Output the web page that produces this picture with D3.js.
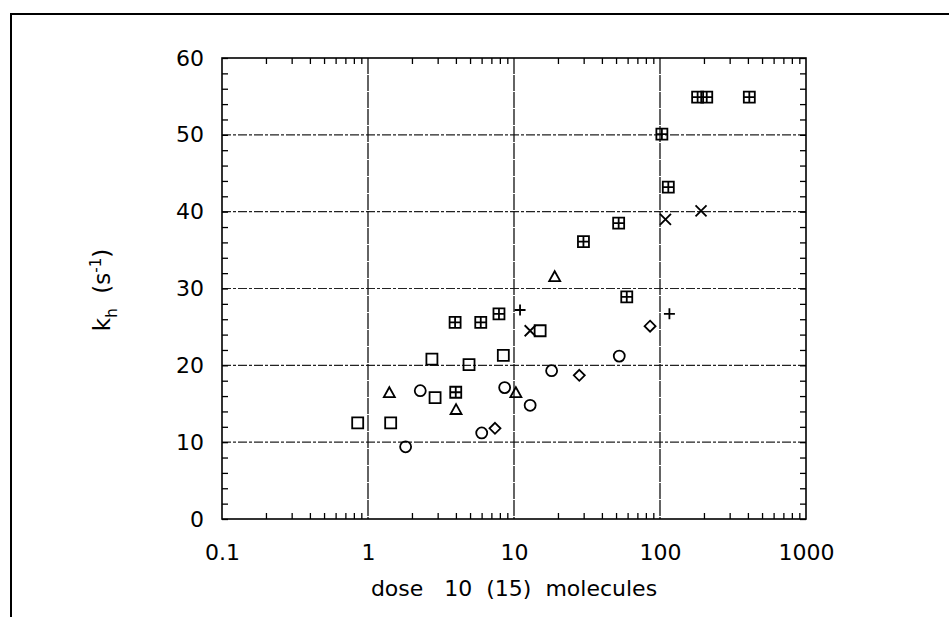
<!DOCTYPE html>
<html>
<head>
<meta charset="utf-8">
<script src="https://cdn.jsdelivr.net/npm/d3@7"></script>
<style>
  body { margin: 0; background: #fff; }
  svg { display: block; font-family: "DejaVu Sans", sans-serif; }
</style>
</head>
<body>
<svg></svg>
<script>
// tick labels
const xTickValues = [0.1, 1, 10, 100, 1000];
const yTickValues = [0, 10, 20, 30, 40, 50, 60];

// data: [dose, k_h]
const squares = [[0.85, 12.5], [1.43, 12.5], [2.74, 20.8], [2.88, 15.8], [4.92, 20.1], [8.45, 21.3], [15.1, 24.5]];
const triangles = [[1.40, 16.4], [4.01, 14.2], [10.3, 16.4], [19.0, 31.5]];
const circles = [[1.81, 9.4], [2.28, 16.7], [6.01, 11.2], [8.63, 17.1], [12.9, 14.8], [18.1, 19.3], [52.6, 21.2]];
const diamonds = [[7.41, 11.8], [28.0, 18.7], [85.5, 25.1]];
const crossedSquares = [[3.95, 25.6], [5.92, 25.6], [7.89, 26.7], [3.99, 16.5], [29.9, 36.1], [52.1, 38.5],
  [59.2, 28.9], [103, 50.1], [114, 43.2], [181, 54.9], [209, 54.9], [409, 54.9]];
const pluses = [[11.0, 27.2], [116, 26.7]];
const crosses = [[12.9, 24.5], [109, 39.0], [191, 40.1]];

const width = 949;
const height = 617;
const plotLeft = 222;
const plotRight = 806;
const plotTop = 58;
const plotBottom = 519;

const svg = d3.select("svg")
  .attr("width", width)
  .attr("height", height);

// outer frame (top and left edges only)
svg.append("path")
  .attr("d", `M11,${height} L11,14 L${width},14`)
  .attr("fill", "none")
  .attr("stroke", "black")
  .attr("stroke-width", 2);

// scales
const x = d3.scaleLog()
  .domain([0.1, 1000])
  .range([plotLeft, plotRight]);

const y = d3.scaleLinear()
  .domain([0, 60])
  .range([plotBottom, plotTop]);

// grid lines
svg.append("g")
  .selectAll("line")
  .data(yTickValues.filter(d => d > 0 && d < 60)).enter().append("line")
  .attr("x1", plotLeft)
  .attr("x2", plotRight)
  .attr("y1", d => y(d))
  .attr("y2", d => y(d))
  .attr("stroke", "#222")
  .attr("stroke-width", 1.1)
  .attr("stroke-dasharray", "9,2,3,2");

svg.append("g")
  .selectAll("line")
  .data(xTickValues.filter(d => d > 0.1 && d < 1000)).enter().append("line")
  .attr("x1", d => x(d))
  .attr("x2", d => x(d))
  .attr("y1", plotTop)
  .attr("y2", plotBottom)
  .attr("stroke", "#111")
  .attr("stroke-width", 1.3)
  .attr("stroke-dasharray", "16,1");

// minor ticks
const minorX = x.ticks().filter(d => !xTickValues.includes(d));
const yTicks = d3.range(0, 61, 2);

const styleTicks = g => {
  g.select(".domain").remove();
  g.selectAll("line").attr("stroke", "black").attr("stroke-width", 1.3);
};

svg.append("g")
  .attr("transform", `translate(0, ${plotBottom})`)
  .call(d3.axisBottom(x).tickValues(minorX).tickSize(-6).tickFormat(""))
  .call(styleTicks);

svg.append("g")
  .attr("transform", `translate(0, ${plotTop})`)
  .call(d3.axisTop(x).tickValues(minorX).tickSize(-6).tickFormat(""))
  .call(styleTicks);

svg.append("g")
  .attr("transform", `translate(${plotLeft}, 0)`)
  .call(d3.axisLeft(y).tickValues(yTicks).tickSize(-6).tickFormat(""))
  .call(styleTicks);

svg.append("g")
  .attr("transform", `translate(${plotRight}, 0)`)
  .call(d3.axisRight(y).tickValues(yTicks).tickSize(-6).tickFormat(""))
  .call(styleTicks);

// tick labels
svg.append("g")
  .attr("transform", `translate(0, ${plotBottom})`)
  .call(d3.axisBottom(x).tickValues(xTickValues).tickSize(0).tickPadding(25).tickFormat(d3.format("~g")))
  .call(g => g.select(".domain").remove())
  .selectAll("text")
  .attr("font-family", "DejaVu Sans")
  .attr("font-size", "22px")
  .attr("fill", "black");

svg.append("g")
  .attr("transform", `translate(${plotLeft}, 0)`)
  .call(d3.axisLeft(y).tickValues(yTickValues).tickSize(0).tickPadding(18))
  .call(g => g.select(".domain").remove())
  .selectAll("text")
  .attr("font-family", "DejaVu Sans")
  .attr("font-size", "22px")
  .attr("fill", "black");

// plot frame
svg.append("rect")
  .attr("x", plotLeft)
  .attr("y", plotTop)
  .attr("width", plotRight - plotLeft)
  .attr("height", plotBottom - plotTop)
  .attr("fill", "none")
  .attr("stroke", "black")
  .attr("stroke-width", 1.6);

// marker shapes, r is half the marker width
const r = 5.5;
const shapes = {
  square: p => { p.rect(-r, -r, 2 * r, 2 * r); },
  crossedSquare: p => {
    p.rect(-r, -r, 2 * r, 2 * r);
    p.moveTo(0, -r); p.lineTo(0, r);
    p.moveTo(-r, 0); p.lineTo(r, 0);
  },
  circle: p => { p.moveTo(r, 0); p.arc(0, 0, r, 0, 2 * Math.PI); },
  triangle: p => {
    p.moveTo(0, -r * 1.05); p.lineTo(r, r * 0.75); p.lineTo(-r, r * 0.75); p.closePath();
  },
  diamond: p => {
    p.moveTo(0, -r); p.lineTo(r, 0); p.lineTo(0, r); p.lineTo(-r, 0); p.closePath();
  },
  plus: p => {
    p.moveTo(0, -r); p.lineTo(0, r);
    p.moveTo(-r, 0); p.lineTo(r, 0);
  },
  times: p => {
    p.moveTo(-r, -r); p.lineTo(r, r);
    p.moveTo(r, -r); p.lineTo(-r, r);
  }
};

const shapePath = name => {
  const p = d3.path();
  shapes[name](p);
  return p.toString();
};

const series = [
  { shape: "square", values: squares },
  { shape: "triangle", values: triangles },
  { shape: "circle", values: circles },
  { shape: "diamond", values: diamonds },
  { shape: "crossedSquare", values: crossedSquares },
  { shape: "plus", values: pluses },
  { shape: "times", values: crosses }
];

// render markers
series.forEach(s => {
  svg.append("g")
    .selectAll("path")
    .data(s.values).enter().append("path")
    .attr("transform", d => `translate(${x(d[0])}, ${y(d[1])})`)
    .attr("d", shapePath(s.shape))
    .attr("fill", "none")
    .attr("stroke", "black")
    .attr("stroke-width", 1.8);
});

// x-axis title
svg.append("text")
  .attr("x", 514)
  .attr("y", 596)
  .attr("text-anchor", "middle")
  .attr("font-size", "22px")
  .style("white-space", "pre")
  .text("dose   10  (15)  molecules");

// y-axis title
const yTitle = svg.append("text")
  .attr("transform", "translate(110, 290) rotate(-90)")
  .attr("text-anchor", "middle")
  .attr("font-size", "23px")
  .style("white-space", "pre");

yTitle.append("tspan").text("k");
yTitle.append("tspan").attr("font-size", "15px").attr("dy", 7).text("h");
yTitle.append("tspan").attr("dy", -7).text("  (s");
yTitle.append("tspan").attr("font-size", "15px").attr("dy", -9).text("-1");
yTitle.append("tspan").attr("dy", 9).text(")");
</script>
</body>
</html>
